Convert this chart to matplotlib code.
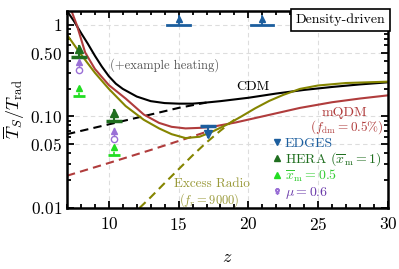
import matplotlib
matplotlib.use("Agg")
import matplotlib.pyplot as plt
from matplotlib.lines import Line2D
from matplotlib.ticker import FixedLocator, FixedFormatter, MultipleLocator, NullFormatter

plt.rcParams["font.family"] = "serif"
plt.rcParams["font.serif"] = ["cmr10", "DejaVu Serif"]
plt.rcParams["mathtext.fontset"] = "cm"
plt.rcParams["axes.formatter.use_mathtext"] = True

# curves (z, Ts/Trad)
cdm_z = [7.0, 7.5, 8.0, 8.5, 9.0, 9.5, 10, 10.5, 11, 12, 13, 14, 15, 16, 17, 18, 20, 22, 24, 26, 28, 30]
cdm_v = [1.42, 1.1, 0.82, 0.62, 0.46, 0.35, 0.275, 0.228, 0.2, 0.165, 0.147, 0.14, 0.138, 0.138, 0.142, 0.147, 0.16, 0.178, 0.195, 0.21, 0.224, 0.236]
cdm_nh_z = [7, 10, 13, 15, 17]
cdm_nh_v = [0.064, 0.082, 0.105, 0.124, 0.142]

qdm_z = [7.3, 7.7, 8.3, 9.0, 10, 11.2, 12.5, 13.6, 14.5, 15.5, 16.5, 17.4, 19.1, 21, 23.7, 26, 28, 30]
qdm_v = [1.45, 1.0, 0.5, 0.33, 0.22, 0.157, 0.105, 0.085, 0.077, 0.074, 0.075, 0.077, 0.086, 0.1, 0.124, 0.143, 0.157, 0.17]
qdm_nh_z = [7, 10, 13, 15.8, 17]
qdm_nh_v = [0.0225, 0.031, 0.043, 0.059, 0.068]

rad_z = [7, 7.9, 9, 10, 11.2, 12.5, 13.6, 14.5, 15.5, 16.5, 17.4, 18.5, 19.5, 20.5, 21.5, 22.5, 23.7, 25, 27, 30]
rad_v = [0.78, 0.5, 0.3, 0.2, 0.13, 0.092, 0.074, 0.064, 0.058, 0.06, 0.068, 0.082, 0.1, 0.123, 0.148, 0.172, 0.2, 0.218, 0.232, 0.24]
rad_nh_z = [12.2, 13, 14, 15, 16, 17, 18, 19]
rad_nh_v = [0.0100, 0.0131, 0.0187, 0.0265, 0.0375, 0.052, 0.07, 0.092]

# limits
edges_z = [17.1]
edges_v = [0.078]
top_z = [15.0, 21.0]
top_v = [1.0, 1.0]
top_dz = [0.8, 0.8]
hera_z = [7.85, 10.4]
hera_v = [0.45, 0.09]
xm05_z = [7.85, 10.4]
xm05_v = [0.166, 0.038]
mu_z = [7.85, 10.4]
mu_v = [0.32, 0.057]

c_red = "#b03c3c"
c_olive = "#858500"
c_blue = "#1c5e9e"
c_dgreen = "#1f6e1f"
c_lime = "#22dd22"
c_purple = "#9a6fd6"

fig = plt.figure(figsize=(3.99, 2.69), dpi=100)
ax = fig.add_axes([0.168, 0.227, 0.804, 0.732])

ax.plot(cdm_nh_z, cdm_nh_v, color="black", lw=1.5, ls=(0, (4, 2.5)))
ax.plot(qdm_nh_z, qdm_nh_v, color=c_red, lw=1.5, ls=(0, (4, 2.5)))
ax.plot(rad_nh_z, rad_nh_v, color=c_olive, lw=1.5, ls=(0, (4, 2.5)))
ax.plot(cdm_z, cdm_v, color="black", lw=1.5)
ax.plot(qdm_z, qdm_v, color=c_red, lw=1.5)
ax.plot(rad_z, rad_v, color=c_olive, lw=1.5)

up = 1.32
for z, v in zip(hera_z, hera_v):
    ax.plot(z, v, marker="_", ms=11, mew=2.5, color=c_dgreen)
    ax.plot([z, z], [v, v * up], color=c_dgreen, lw=1.5)
    ax.plot(z, v * 1.22, marker="^", ms=6, color=c_dgreen)
for z, v in zip(xm05_z, xm05_v):
    ax.plot(z, v, marker="_", ms=9, mew=2, color=c_lime)
    ax.plot([z, z], [v, v * up], color=c_lime, lw=1.2, ls=(0, (2, 1.5)))
    ax.plot(z, v * 1.22, marker="^", ms=5, color=c_lime)
for z, v in zip(mu_z, mu_v):
    ax.plot(z, v, marker="o", ms=4.5, mfc="none", mew=1, color=c_purple)
    ax.plot([z, z], [v * 1.08, v * up], color=c_purple, lw=1)
    ax.plot(z, v * 1.22, marker="^", ms=4, color=c_purple)
for z, v in zip(edges_z, edges_v):
    ax.plot(z, v, marker="_", ms=12, mew=2.5, color=c_blue)
    ax.plot([z, z], [v, v / up], color=c_blue, lw=1.5)
    ax.plot(z, v / 1.22, marker="v", ms=6, color=c_blue)
for z, v, dz in zip(top_z, top_v, top_dz):
    ax.plot([z - dz, z + dz], [v, v], color=c_blue, lw=2)
    ax.plot([z, z], [v, v * 1.25], color=c_blue, lw=1.3)
    ax.plot(z, v * 1.17, marker="^", ms=5, color=c_blue)

ax.text(14.0, 0.36, "(+example heating)", color="#555555", fontsize=9, ha="center", va="center")
ax.text(20.3, 0.21, "CDM", color="black", fontsize=10, ha="center", va="center")
ax.text(26.9, 0.11, "mQDM", color=c_red, fontsize=10, ha="center", va="center")
ax.text(27.1, 0.076, r"$(f_{\rm dm}=0.5\%)$", color=c_red, fontsize=9.5, ha="center", va="center")
ax.text(17.4, 0.0182, "Excess Radio", color="#9a9a3a", fontsize=9.5, ha="center", va="center")
ax.text(17.2, 0.0122, r"$(f_r=9000)$", color="#9a9a3a", fontsize=9, ha="center", va="center")
ax.text(0.992, 0.988, "Density-driven", transform=ax.transAxes, fontsize=10, ha="right", va="top",
        bbox=dict(boxstyle="square,pad=0.35", fc="white", ec="black", lw=1.2))

handles = [
    Line2D([], [], ls="none", marker="v", ms=5, color=c_blue),
    Line2D([], [], ls="none", marker="^", ms=5, color=c_dgreen),
    Line2D([], [], ls="none", marker="^", ms=4, color=c_lime),
    Line2D([], [], ls="none", marker="$\u2640$", ms=4, color=c_purple),
]
labels = ["EDGES", r"HERA $(\overline{x}_{\rm m}=1)$", r"$\overline{x}_{\rm m}=0.5$", r"$\mu=0.6$"]
leg = ax.legend(handles, labels, loc="upper left", bbox_to_anchor=(0.64, 0.36), frameon=False,
                fontsize=10, handlelength=0.6, handletextpad=0.3, labelspacing=0.02,
                borderaxespad=0, borderpad=0)
for t, c in zip(leg.get_texts(), [c_blue, c_dgreen, "#33cc33", "#6a3aaa"]):
    t.set_color(c)

ax.set_yscale("log")
ax.set_xlim(7, 30)
ax.set_ylim(0.01, 1.42)
ax.yaxis.set_major_locator(FixedLocator([0.01, 0.05, 0.1, 0.5, 1]))
ax.yaxis.set_major_formatter(FixedFormatter(["$0.01$", "$0.05$", "$0.10$", "$0.50$", "$1$"]))
ax.yaxis.set_minor_formatter(NullFormatter())
ax.xaxis.set_major_locator(FixedLocator([10, 15, 20, 25, 30]))
ax.xaxis.set_major_formatter(FixedFormatter(["$10$", "$15$", "$20$", "$25$", "$30$"]))
ax.xaxis.set_minor_locator(MultipleLocator(1))
ax.tick_params(which="both", direction="in", top=True, right=True, labelsize=12.5, width=1.3)
ax.tick_params(which="major", length=5)
ax.tick_params(which="minor", length=3)
ax.tick_params(axis="x", pad=6)
for s in ax.spines.values():
    s.set_linewidth(1.8)
ax.grid(True, which="major", ls=(0, (4, 3)), color="#dddddd", lw=0.8)
ax.set_axisbelow(True)
ax.set_xlabel("$z$", fontsize=13, labelpad=12)
ax.set_ylabel(r"$\overline{T}_S/T_{\rm rad}$", fontsize=13, labelpad=2)

fig.savefig("out.png", dpi=100)
